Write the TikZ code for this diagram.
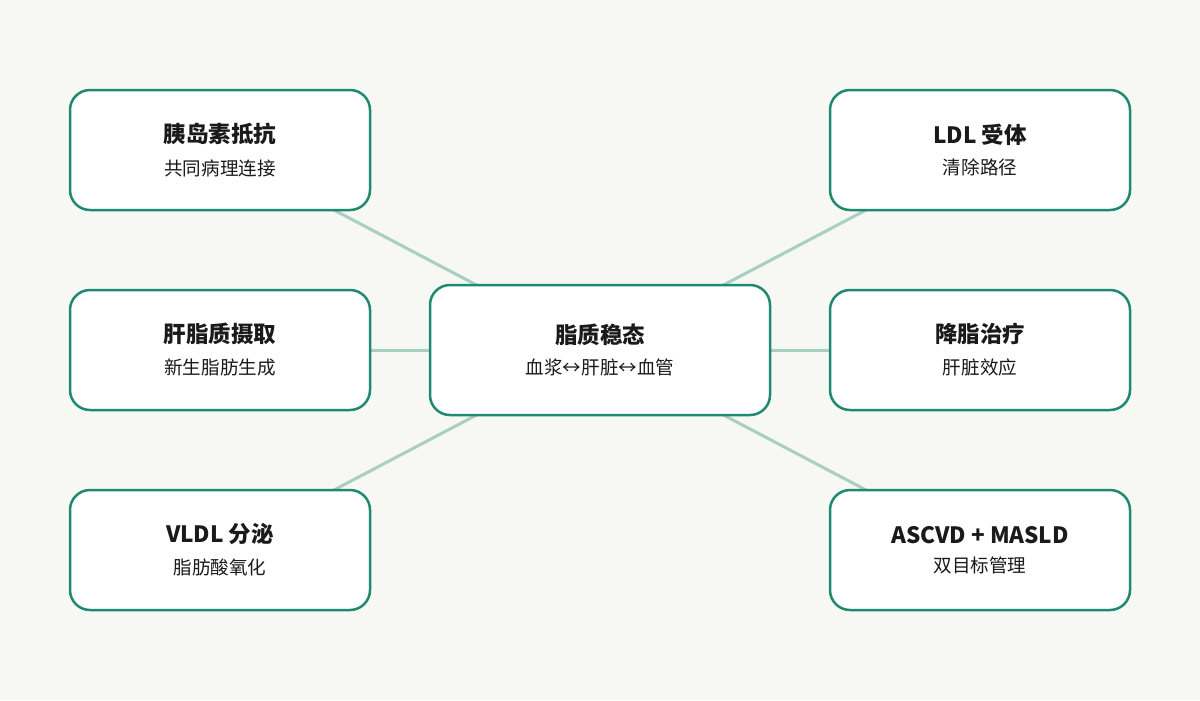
\documentclass[tikz,border=0pt]{standalone}
\usepackage{fontspec}
\setmainfont{Noto Sans CJK SC}
\usetikzlibrary{positioning, backgrounds}
\definecolor{bgpaper}{HTML}{F7F7F3}
\definecolor{tealdark}{HTML}{1E8A72}
\definecolor{teallight}{HTML}{A8CFC2}
\definecolor{inkdark}{HTML}{1A1A1A}
\newcommand{\boxtext}[2]{{\fontsize{16}{20}\selectfont\bfseries #1}\\[9pt]{\fontsize{13.2}{16}\selectfont #2}}

\begin{document}
\begin{tikzpicture}[x=0.025cm, y=-0.025cm,
    box/.style={rectangle, rounded corners=20*0.025cm, draw=tealdark, line width=2.5*0.025cm, fill=white, minimum width=300*0.025cm, minimum height=120*0.025cm, align=center, text=inkdark},
    hub/.style={box, minimum width=340*0.025cm, minimum height=130*0.025cm},
    link/.style={draw=teallight, line width=3*0.025cm}
]

\useasboundingbox (0,0) rectangle (1200,700);

% hub
\node[hub] (hub) at (600,350) {\boxtext{脂质稳态}{血浆↔肝脏↔血管}};

% left column
\node[box] (insulin) at (220,150) {\boxtext{胰岛素抵抗}{共同病理连接}};
\node[box] (uptake) at (220,350) {\boxtext{肝脂质摄取}{新生脂肪生成}};
\node[box] (vldl) at (220,550) {\boxtext{VLDL 分泌}{脂肪酸氧化}};

% right column
\node[box] (ldlr) at (980,150) {\boxtext{LDL 受体}{清除路径}};
\node[box] (therapy) at (980,350) {\boxtext{降脂治疗}{肝脏效应}};
\node[box] (dual) at (980,550) {\boxtext{ASCVD + MASLD}{双目标管理}};

% links
\begin{scope}[on background layer]
\fill[bgpaper] (0,0) rectangle (1200,700);
\foreach \n in {insulin, uptake, vldl, ldlr, therapy, dual}
  \draw[link] (hub.center) -- (\n.center);
\end{scope}

\end{tikzpicture}
\end{document}
